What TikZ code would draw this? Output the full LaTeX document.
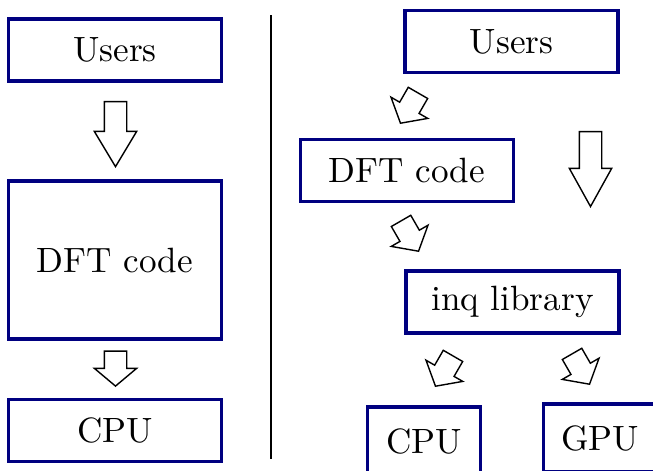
\documentclass[tikz,border=0pt]{standalone}
\usepackage{amsmath}
\usepackage{amssymb}
\usetikzlibrary{shapes.arrows}

\tikzset{
  box/.style={draw=blue!50!black, line width=1pt, inner sep=0pt,
    minimum width=2.13cm, minimum height=0.62cm},
  blockarrow/.style={single arrow, draw, fill=white, inner xsep=0pt, inner ysep=0.105cm,
    minimum width=0.41cm, single arrow head extend=0.1cm, anchor=tip},
  bigarrow/.style={blockarrow, single arrow tip angle=62},
  smallarrow/.style={blockarrow, minimum height=0.35cm, single arrow tip angle=100},
}

\begin{document}
\begin{tikzpicture}
      \useasboundingbox (0,0) rectangle (6.53,4.70);

      % left: plain code
      \node [box] (users) at (1.15,4.20) {Users};
      \node [box,minimum height=1.58cm] (dft) at (1.15,2.10) {DFT code};
      \node [box] (cpu) at (1.15,0.395) {CPU};
      \node [bigarrow,minimum height=0.65cm,rotate=-90] (a1) at (1.155,3.02) {};
      \node [smallarrow,rotate=-90] (a2) at (1.155,0.83) {};

      \coordinate (top) at (2.71,4.55);
      \coordinate (bottom) at (2.71,0.11);
      \draw [thick] (top) -- (bottom);

      % right: code on top of inq
      \node [box] (users2) at (5.115,4.285) {Users};
      \node [box] (dft2) at (4.07,2.995) {DFT code};
      \node [box] (inq) at (5.125,1.68) {inq library};
      \node [box,minimum width=1.13cm,minimum height=0.68cm] (cpu2) at (4.24,0.29) {CPU};
      \node [box,minimum width=1.13cm,minimum height=0.68cm] (gpu) at (6.00,0.32) {GPU};

      \node [smallarrow,rotate=-120] (a3) at (4.00,3.46) {};
      \node [bigarrow,minimum height=0.75cm,single arrow tip angle=58,rotate=-90] (a4) at (5.905,2.62) {};
      \node [smallarrow,rotate=-60] (a5) at (4.19,2.18) {};
      \node [smallarrow,rotate=-120] (a6) at (4.35,0.83) {};
      \node [smallarrow,rotate=-60] (a7) at (5.90,0.85) {};
    \end{tikzpicture}
\end{document}
